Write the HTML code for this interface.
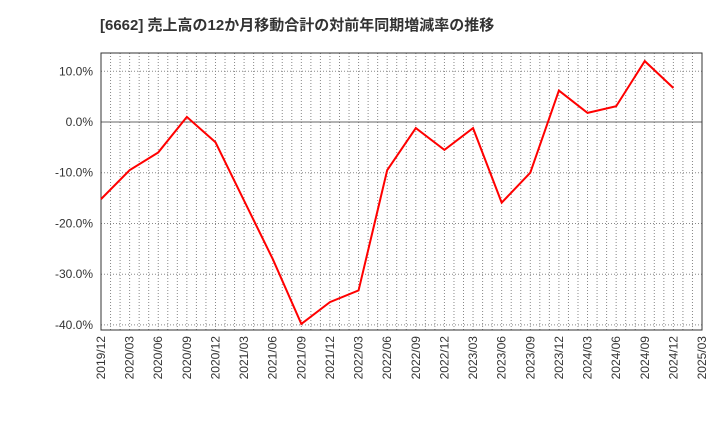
<!DOCTYPE html>
<html><head><meta charset="utf-8"><style>
body{margin:0;background:#fff;}
svg{font-family:"Liberation Sans","Noto Sans CJK JP",sans-serif;}
</style></head><body>
<svg id="chart" width="720" height="440">
<text x="100" y="30" font-size="15" font-weight="bold" fill="#333">[6662]  売上高の12か月移動合計の対前年同期増減率の推移</text>
<g id="grid"></g><g id="axes"></g><g id="series"></g>
</svg>
<script>
const categories=["2019/12","2020/03","2020/06","2020/09","2020/12","2021/03","2021/06","2021/09","2021/12","2022/03","2022/06","2022/09","2022/12","2023/03","2023/06","2023/09","2023/12","2024/03","2024/06","2024/09","2024/12"];
const xTickLabels=["2019/12","2020/03","2020/06","2020/09","2020/12","2021/03","2021/06","2021/09","2021/12","2022/03","2022/06","2022/09","2022/12","2023/03","2023/06","2023/09","2023/12","2024/03","2024/06","2024/09","2024/12","2025/03"];
const values=[-15.2,-9.5,-6.0,1.0,-4.0,-15.5,-27.0,-39.8,-35.5,-33.2,-9.5,-1.2,-5.5,-1.2,-15.9,-10.0,6.2,1.8,3.1,12.0,6.7];
const yTicks=[10,0,-10,-20,-30,-40];
const L=101,R=702,T=53,B=330,yMax=13.6,yMin=-41.0;
const NS="http://www.w3.org/2000/svg";
const x=i=>L+(R-L)*i/(xTickLabels.length-1);
const y=v=>T+(yMax-v)/(yMax-yMin)*(B-T);
function mk(tag,attrs,parent){const e=document.createElementNS(NS,tag);for(const k in attrs)e.setAttribute(k,attrs[k]);parent.appendChild(e);return e;}
const grid=document.getElementById('grid'),axes=document.getElementById('axes'),series=document.getElementById('series');
const nMonths=(xTickLabels.length-1)*3;
for(let m=1;m<nMonths;m++){const xx=L+(R-L)*m/nMonths;
const g=mk('line',{x1:xx,x2:xx,y1:T,y2:B,stroke:'#888','stroke-width':1,'stroke-dasharray':'1,2'},grid);

}
yTicks.forEach(v=>{const yy=y(v);
const g=mk('line',{x1:L,x2:R,y1:yy,y2:yy,stroke:v===0?'#666':'#888','stroke-width':1,'stroke-dasharray':v===0?'':'1,2'},grid);


const t=mk('text',{x:L-8,y:yy+4,'text-anchor':'end','font-size':12,fill:'#333'},axes);t.textContent=v.toFixed(1)+'%';

});
const fr=mk('rect',{x:L,y:T,width:R-L,height:B-T,fill:'none',stroke:'#333','stroke-width':1},axes);


xTickLabels.forEach((s,i)=>{const xx=x(i);
const t=mk('text',{x:0,y:0,transform:`translate(${xx+4},${B+6}) rotate(-90)`,'text-anchor':'end','font-size':12,fill:'#333'},axes);t.textContent=s;

});
const pts=values.map((v,i)=>x(i)+','+y(v)).join(' ');
const pl=mk('polyline',{points:pts,fill:'none',stroke:'#f00','stroke-width':2,'stroke-linejoin':'miter'},series);


</script>
</body></html>
